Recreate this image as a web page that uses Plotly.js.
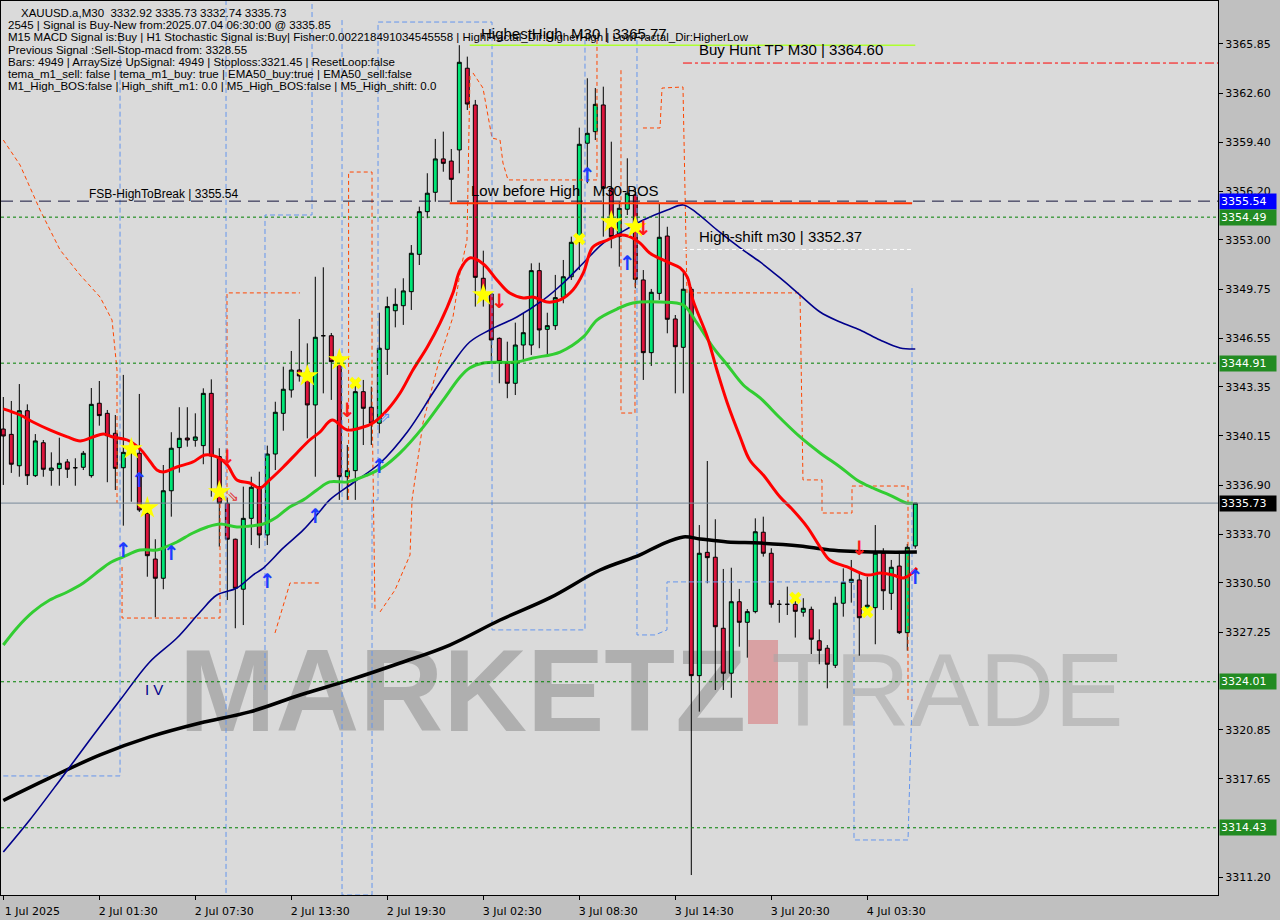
<!DOCTYPE html>
<html><head><meta charset="utf-8">
<script src="https://cdn.plot.ly/plotly-3.0.1.min.js"></script>
<style>html,body{margin:0;padding:0;background:#c0c0c0;}#chart{width:1280px;height:920px;}</style>
</head><body><div id="chart"></div>
<script>
// ---------- candles (XAUUSD.a M30) ----------
const open = [3340.59,3340.24,3338.18,3341.79,3337.53,3339.69,3337.88,3337.99,3338.43,3338.05,3338.08,3337.53,3342.28,3341.62,3340.31,3338.05,3339.41,3339.00,3335.06,3332.06,
3330.80,3336.54,3339.37,3340.00,3339.85,3339.50,3342.93,3338.78,3335.72,3333.36,3330.08,3334.73,3336.81,3333.64,3338.95,3341.62,3343.15,3344.46,3344.35,3342.17,
3346.71,3346.71,3344.90,3337.46,3337.86,3343.04,3342.02,3340.97,3345.82,3348.35,3348.68,3349.60,3352.05,3354.85,3356.12,3358.31,3358.17,3358.90,3364.26,3361.85,
3350.48,3349.45,3346.54,3345.01,3343.59,3346.10,3346.10,3350.98,3347.13,3347.37,3349.23,3350.58,3352.84,3359.34,3360.10,3361.85,3356.38,3353.21,3355.01,3355.94,
3350.37,3345.60,3349.49,3353.25,3347.81,3345.95,3349.76,3324.41,3332.50,3332.18,3327.52,3324.57,3329.26,3327.91,3328.61,3333.82,3332.44,3329.09,3329.09,3329.09,
3328.57,3328.76,3326.70,3326.21,3325.09,3329.16,3330.53,3330.69,3328.72,3328.87,3332.44,3329.81,3331.60,3327.23,3332.92];
const high = [3342.69,3342.43,3343.54,3342.21,3340.26,3339.87,3339.06,3340.02,3338.62,3338.67,3339.15,3343.28,3343.74,3341.84,3341.51,3344.14,3339.60,3342.89,3335.74,3333.36,
3338.23,3340.38,3342.02,3342.02,3341.62,3343.26,3343.85,3339.33,3336.07,3333.40,3336.81,3337.46,3337.79,3339.50,3342.38,3344.68,3345.71,3347.81,3346.21,3350.58,
3351.20,3346.89,3345.01,3339.54,3343.81,3343.81,3343.37,3348.22,3349.27,3349.82,3350.48,3352.66,3355.18,3357.37,3359.62,3360.10,3358.96,3365.77,3365.02,3362.18,
3352.29,3349.55,3346.60,3346.32,3347.57,3348.20,3351.46,3351.50,3348.22,3350.70,3351.68,3353.21,3360.36,3363.60,3362.96,3363.05,3359.44,3355.50,3358.35,3356.38,
3351.02,3349.78,3355.40,3353.86,3348.07,3351.02,3349.91,3334.29,3338.49,3334.67,3331.41,3331.49,3330.10,3328.78,3334.73,3334.84,3332.77,3329.37,3330.25,3329.70,
3329.49,3328.94,3327.45,3326.42,3329.59,3331.45,3332.00,3331.23,3330.90,3334.29,3332.77,3332.00,3332.39,3333.05,3335.73];
const low = [3336.92,3337.71,3337.46,3336.92,3337.44,3337.46,3336.87,3336.87,3337.38,3336.87,3337.90,3337.40,3340.81,3337.10,3336.59,3334.25,3335.82,3335.15,3330.90,3328.24,
3330.08,3334.84,3337.73,3339.43,3339.43,3338.28,3336.15,3332.87,3329.37,3327.52,3327.73,3332.98,3332.77,3332.98,3337.90,3340.48,3342.65,3343.70,3339.98,3337.46,
3342.93,3342.50,3335.94,3335.94,3335.94,3339.54,3339.54,3340.31,3344.14,3347.26,3347.42,3348.40,3351.35,3354.42,3355.50,3357.47,3355.50,3357.37,3361.52,3348.62,
3348.62,3345.01,3343.59,3342.61,3342.82,3345.12,3345.45,3345.89,3345.45,3347.09,3348.84,3350.37,3351.02,3356.71,3359.55,3353.21,3352.45,3351.24,3354.63,3349.82,
3343.81,3344.73,3349.06,3346.87,3342.93,3342.93,3311.33,3322.05,3330.47,3323.47,3323.47,3322.96,3326.31,3325.59,3328.50,3332.22,3328.87,3327.88,3328.39,3326.91,
3328.28,3325.83,3325.16,3323.58,3324.91,3328.28,3329.20,3325.72,3328.39,3326.47,3328.72,3328.72,3327.14,3326.05,3332.74];
const close = [3340.13,3338.28,3341.79,3337.53,3339.81,3337.95,3338.03,3338.34,3337.95,3338.05,3339.00,3342.21,3341.47,3340.15,3338.01,3339.06,3339.02,3335.28,3332.28,3330.80,
3336.54,3339.33,3339.98,3339.87,3340.07,3342.93,3338.82,3335.72,3333.36,3330.14,3334.73,3336.77,3333.64,3338.95,3341.69,3343.20,3344.46,3344.07,3342.17,3346.61,
3346.71,3345.01,3337.46,3337.86,3343.04,3341.95,3340.97,3345.89,3348.62,3348.77,3349.65,3352.12,3354.85,3356.06,3358.31,3358.02,3356.97,3364.65,3361.91,3350.54,
3349.45,3346.43,3345.01,3343.59,3346.10,3346.91,3350.98,3347.09,3347.37,3349.21,3350.58,3352.84,3359.27,3359.99,3361.89,3356.38,3353.21,3355.07,3356.06,3350.41,
3345.60,3349.56,3353.17,3347.79,3345.99,3349.76,3324.41,3332.44,3332.15,3327.62,3324.57,3329.26,3327.91,3328.61,3333.85,3332.44,3329.09,3329.09,3329.09,3328.63,
3328.83,3326.80,3326.07,3325.16,3329.16,3330.53,3330.73,3328.21,3329.03,3332.44,3329.98,3331.52,3327.23,3332.83,3335.73];
const barIdx = open.map((v, i) => i);

// ---------- time axis ----------
const tickIdx = [0,12,24,36,48,60,72,84,96,108];
const tickText = ['1 Jul 2025','2 Jul 01:30','2 Jul 07:30','2 Jul 13:30','2 Jul 19:30','3 Jul 02:30','3 Jul 08:30','3 Jul 14:30','3 Jul 20:30','4 Jul 03:30'];

// ---------- price axis (3324.05 and 3314.45 sit under level boxes) ----------
const priceTicks = [3365.85,3362.60,3359.40,3356.20,3353.00,3349.75,3346.55,3343.35,3340.15,3336.90,3333.70,3330.50,3327.25,3320.85,3317.65,3311.20];
const priceTickText = ['3365.85','3362.60','3359.40','3356.20','3353.00','3349.75','3346.55','3343.35','3340.15','3336.90','3333.70','3330.50','3327.25','3320.85','3317.65','3311.20'];

// ---------- moving averages ----------
const redX = [0,2.1,3.7,5.8,8.0,9.6,11.2,12.5,13.7,15.5,17.1,18.3,19.2,20.0,21.7,23.7,25.2,26.7,28.0,29.2,30.8,32.1,33.3,35.0,36.7,38.3,39.6,41.1,43.0,45.0,46.2,48.0,49.6,51.2,53.0,54.6,56.2,57.1,58.3,60.0,61.7,63.3,65.0,66.2,68.0,69.6,71.2,72.5,73.7,75.5,77.1,78.1,79.6,80.8,83.0,84.6,85.5,86.2,88.0,89.2,90.5,92.1,93.3,95.0,97.1,98.7,100.5,102.1,103.3,105.5,108.0,109.6,111.2,112.5,113.3,114.2];
const redY = [3341.91,3341.51,3341.05,3340.53,3340.07,3339.81,3340.07,3340.26,3340.07,3339.87,3339.28,3338.49,3337.90,3337.77,3338.10,3338.43,3338.89,3338.76,3338.23,3337.25,3337.05,3336.72,3337.25,3338.10,3339.02,3339.87,3340.40,3341.18,3340.53,3340.72,3340.99,3341.84,3342.95,3344.46,3345.97,3347.55,3349.51,3351.02,3351.81,3351.42,3350.37,3349.51,3349.19,3349.25,3348.92,3349.06,3349.71,3350.83,3352.53,3352.99,3353.32,3353.25,3352.79,3352.14,3351.55,3351.16,3350.56,3349.06,3346.63,3344.46,3342.30,3340.07,3338.56,3337.57,3336.13,3335.28,3334.16,3332.85,3332.00,3331.54,3331.01,3331.14,3331.01,3330.82,3331.01,3331.47];
const greenX = [0,1.7,3.7,5.8,8.0,10.0,12.1,13.3,15.0,17.1,19.2,20.0,21.7,23.7,25.5,27.1,29.2,30.8,32.5,34.2,35.8,37.5,39.2,40.8,43.0,45.5,47.5,49.6,52.5,55.0,57.1,58.3,60.0,64.2,66.2,69.6,72.5,74.2,76.7,78.7,82.1,85.0,86.7,88.7,90.5,92.5,94.6,97.1,99.6,102.1,104.6,106.7,108.7,110.8,112.9,113.7];
const greenY = [3326.42,3327.54,3328.59,3329.37,3329.90,3330.49,3331.34,3331.80,3332.20,3332.65,3332.65,3332.79,3333.18,3333.77,3334.16,3334.36,3334.16,3334.23,3334.36,3334.82,3335.48,3335.94,3336.59,3337.12,3337.12,3337.57,3338.10,3339.02,3340.73,3342.50,3344.00,3344.59,3344.92,3344.99,3345.25,3345.64,3346.63,3347.74,3348.46,3348.86,3348.92,3348.73,3347.55,3345.97,3344.79,3343.48,3342.63,3341.31,3340.07,3339.02,3338.10,3337.25,3336.72,3336.26,3335.74,3335.74];
const navyX = [0,3.3,7.1,10.8,14.6,18.3,21.7,24.6,26.7,29.2,31.2,32.5,35.0,37.5,39.6,40.8,43.7,47.1,50.5,53.7,56.2,58.3,60.8,64.2,67.5,70.0,72.5,75.0,77.1,80.0,83.0,85.0,86.7,89.2,92.1,94.6,97.1,99.6,102.1,104.6,107.1,109.6,112.1,114.0];
const navyY = [3312.84,3314.94,3317.57,3320.19,3322.81,3325.31,3326.88,3328.59,3329.70,3330.16,3331.01,3331.47,3332.79,3333.97,3335.21,3335.94,3337.05,3338.36,3340.40,3342.95,3344.92,3346.30,3347.09,3347.94,3349.06,3350.17,3351.48,3352.79,3353.45,3354.30,3354.96,3355.29,3354.76,3353.65,3352.47,3351.55,3350.50,3349.38,3348.27,3347.61,3347.09,3346.43,3345.91,3345.84];
const blackX = [0,5.8,12.1,18.3,24.6,30.8,37.1,43.3,49.6,55.8,62.1,68.3,74.6,79.6,82.1,85.0,87.1,90.5,94.6,99.6,103.3,109.6,114.2];
const blackY = [3316.22,3317.70,3319.21,3320.39,3321.30,3322.03,3323.14,3324.13,3325.24,3326.42,3328.06,3329.51,3331.34,3332.33,3332.98,3333.51,3333.38,3333.18,3333.11,3332.92,3332.66,3332.52,3332.52];

// ---------- channel step lines ----------
const orangeX = [0,2.09,4.59,7.09,9.59,12.09,13.59,14.21,14.21,null,14.84,14.84,27.09,27.09,27.96,27.96,37.09,null,33.96,35.84,39.59,null,43.16,43.16,46.09,46.09,46.46,null,47.09,48.96,50.84,51.09,52.46,54.59,56.21,57.09,57.96,58.34,null,58.71,59.96,61.09,62.09,62.46,63.09,74.21,74.21,null,77.21,77.21,78.96,78.96,null,79.96,82.09,82.34,84.96,85.46,99.59,99.96,102.34,102.34,106.09,106.09,113.09,113.09,113.71];
const orangeY = [3359.55,3357.91,3354.96,3352.34,3350.70,3349.25,3347.74,3344.46,3335.74,null,3331.54,3328.19,3328.19,3335.94,3335.94,3349.52,3349.52,null,3327.21,3330.49,3330.49,null,3335.94,3357.45,3357.45,3342.50,3328.72,null,3328.59,3330.03,3332.33,3335.94,3340.99,3345.31,3347.94,3350.83,3352.99,3363.95,null,3363.95,3362.96,3359.68,3359.55,3358.04,3356.93,3356.93,3366.11,null,3364.13,3341.64,3341.64,3354.30,null,3360.34,3360.34,3362.96,3363.03,3349.52,3349.52,3337.25,3337.25,3335.08,3335.08,3336.85,3336.85,3322.81,3322.81];
const blueX = [0,14.59,14.59,null,27.84,27.84,null,32.71,32.71,38.59,38.59,null,42.34,42.34,46.09,46.09,46.84,46.84,61.09,61.09,72.71,72.71,null,79.21,79.21,81.46,82.96,82.96,106.34,106.34,113.09,113.59,113.59];
const blueY = [3317.83,3317.83,3367.42,null,3368.74,3310.02,null,3323.47,3354.63,3354.63,3368.74,null,3367.42,3310.02,3310.02,3335.94,3335.94,3367.29,3367.29,3327.41,3327.41,3366.11,null,3366.11,3327.08,3327.08,3327.41,3330.56,3330.56,3313.63,3313.63,3322.81,3350.04];

// ---------- signal markers ----------
const buyArrowX = [15,17,21,33,39,47,73,78,114];
const buyArrowY = [3332.52,3337.12,3332.33,3330.49,3334.75,3338.03,3357.13,3351.35,3330.75];
const sellArrowX = [28,43,62,80,107];
const sellArrowY = [3338.62,3341.71,3348.86,3353.65,3332.65];
const starX = [16,18,27,38,42,60,76,79];
const starY = [3339.28,3335.41,3336.46,3344.07,3345.12,3349.38,3354.17,3353.84];
const crossX = [44,72,99,108];
const crossY = [3343.61,3353.06,3329.51,3328.59];
const hollowSellX = [28.7];
const hollowSellY = [3336.13];
const hollowBuyX = [47.7];
const hollowBuyY = [3341.31];

// ---------- levels ----------
const fsbHigh = 3355.54;
const greenLevels = [3354.49, 3344.91, 3324.01, 3314.43];
const currentPrice = 3335.73;
const highestHigh = 3365.77;
const buyHuntTP = 3364.60;
const highShift = 3352.37;
const lowBeforeHigh = 3355.40;

const infoLines = [
 'XAUUSD.a,M30  3332.92 3335.73 3332.74 3335.73',
 '2545 | Signal is Buy-New from:2025.07.04 06:30:00 @ 3335.85',
 'M15 MACD Signal is:Buy | H1 Stochastic Signal is:Buy| Fisher:0.002218491034545558 | HighFractal_Dir:HigherHigh | LowFractal_Dir:HigherLow',
 'Previous Signal :Sell-Stop-macd from: 3328.55',
 'Bars: 4949 | ArraySize UpSignal: 4949 | Stoploss:3321.45 | ResetLoop:false',
 'tema_m1_sell: false | tema_m1_buy: true | EMA50_buy:true | EMA50_sell:false',
 'M1_High_BOS:false | High_shift_m1: 0.0 | M5_High_BOS:false | M5_High_shift: 0.0'
];

// ---------- geometry helpers (pixel -> paper) ----------
const PL = 1, PR = 1218, PT = 1, PB = 895;
const px = x => (x - PL) / (PR - PL);
const py = y => (PB - y) / (PB - PT);
const XR = [-0.29, 151.84];

const traces = [
 {type:'candlestick', x:barIdx, open:open, high:high, low:low, close:close,
  increasing:{line:{color:'#000000',width:1}, fillcolor:'#00e676'},
  decreasing:{line:{color:'#000000',width:1}, fillcolor:'#dc143c'},
  whiskerwidth:0, hoverinfo:'skip', showlegend:false},
 {type:'scatter', mode:'lines', x:orangeX, y:orangeY, connectgaps:false, line:{color:'#ff4500',width:1,dash:'4px,3px'}, hoverinfo:'skip', showlegend:false},
 {type:'scatter', mode:'lines', x:blueX, y:blueY, connectgaps:false, line:{color:'#6495ed',width:1,dash:'5px,3px'}, hoverinfo:'skip', showlegend:false},
 {type:'scatter', mode:'lines', x:blackX, y:blackY, line:{color:'#000000',width:3.5,shape:'spline'}, hoverinfo:'skip', showlegend:false},
 {type:'scatter', mode:'lines', x:navyX, y:navyY, line:{color:'#00008b',width:1.6,shape:'spline'}, hoverinfo:'skip', showlegend:false},
 {type:'scatter', mode:'lines', x:greenX, y:greenY, line:{color:'#32cd32',width:3,shape:'spline'}, hoverinfo:'skip', showlegend:false},
 {type:'scatter', mode:'lines', x:redX, y:redY, line:{color:'#ff0000',width:3,shape:'spline'}, hoverinfo:'skip', showlegend:false},
 {type:'scatter', mode:'markers', x:starX, y:starY, marker:{symbol:'star',size:17,color:'#ffff00',line:{width:0}}, hoverinfo:'skip', showlegend:false},
 {type:'scatter', mode:'markers', x:crossX, y:crossY, marker:{symbol:'x',size:11,color:'#ffff00',line:{width:0}}, hoverinfo:'skip', showlegend:false},
 {type:'scatter', mode:'text', x:buyArrowX, y:buyArrowY, text:buyArrowX.map(()=>'↑'), textfont:{family:'DejaVu Sans',size:20,color:'#1e3cff',weight:'bold'}, hoverinfo:'skip', showlegend:false},
 {type:'scatter', mode:'text', x:sellArrowX, y:sellArrowY, text:sellArrowX.map(()=>'↓'), textfont:{family:'DejaVu Sans',size:20,color:'#ff1a1a',weight:'bold'}, hoverinfo:'skip', showlegend:false},
 {type:'scatter', mode:'text', x:hollowSellX, y:hollowSellY, text:['⇘'], textfont:{family:'DejaVu Sans',size:14,color:'#e03030'}, hoverinfo:'skip', showlegend:false},
 {type:'scatter', mode:'text', x:hollowBuyX, y:hollowBuyY, text:['⇗'], textfont:{family:'DejaVu Sans',size:14,color:'#5a8cf0'}, hoverinfo:'skip', showlegend:false}
];

const shapes = [
 // watermark (below the candles)
 {type:'rect', layer:'below', xref:'paper', yref:'paper', x0:px(180), x1:px(745), y0:py(725), y1:py(635), line:{width:0}, fillcolor:'rgba(0,0,0,0)',
  label:{text:'MARKETZ', font:{family:'Liberation Sans', size:116, color:'rgba(140,140,140,0.55)', weight:'bold'}, textposition:'middle center'}},
 {type:'rect', layer:'below', xref:'paper', yref:'paper', x0:px(748), x1:px(778), y0:py(724), y1:py(640), line:{width:0}, fillcolor:'rgba(215,90,95,0.45)'},
 {type:'rect', layer:'below', xref:'paper', yref:'paper', x0:px(790), x1:px(1105), y0:py(725), y1:py(635), line:{width:0}, fillcolor:'rgba(0,0,0,0)',
  label:{text:'TRADE', font:{family:'Liberation Sans', size:104, color:'rgba(165,165,165,0.55)'}, textposition:'middle center'}},
 // levels
 {type:'line', xref:'paper', x0:0, x1:1, yref:'y', y0:currentPrice, y1:currentPrice, line:{color:'#778899',width:1}},
 {type:'line', xref:'paper', x0:0, x1:1, yref:'y', y0:fsbHigh, y1:fsbHigh, line:{color:'#14143c',width:1,dash:'12px,7px'}},
 ...greenLevels.map(v => ({type:'line', xref:'paper', x0:0, x1:1, yref:'y', y0:v, y1:v, line:{color:'#008000',width:1,dash:'3px,3px'}})),
 {type:'line', xref:'x', x0:58.3, x1:114, yref:'y', y0:highestHigh, y1:highestHigh, line:{color:'#adff2f',width:1.5}},
 {type:'line', xref:'x', x0:84.96, x1:XR[1], yref:'y', y0:buyHuntTP, y1:buyHuntTP, line:{color:'#ff0000',width:1,dash:'dashdot'}},
 {type:'line', xref:'x', x0:84.96, x1:113.6, yref:'y', y0:highShift, y1:highShift, line:{color:'#ffffff',width:1,dash:'4px,3px'}},
 {type:'line', xref:'x', x0:55.8, x1:113.6, yref:'y', y0:lowBeforeHigh, y1:lowBeforeHigh, line:{color:'#ff3300',width:2}}
];

const F = 'Liberation Sans, Arial, sans-serif';
const annotations = [];
infoLines.forEach((t, k) => {
  const ys = [12.7,25.3,37.3,50,62,73.7,85.7];
  annotations.push({xref:'paper', yref:'paper', x:px(k===0?19:6), y:py(ys[k]), xanchor:'left', yanchor:'middle', showarrow:false,
    text:t, font:{family:F, size:11.5, color:'#000000'}});
});
function lab(t, xi, yp, size, color, anchor){
  annotations.push({xref:'x', yref:'y', x:xi, y:yp, xanchor:anchor||'left', yanchor:'middle', showarrow:false, text:t,
    font:{family:F, size:size, color:color||'#000000'}});
}
lab('HighestHigh \u00a0M30 | ' + highestHigh.toFixed(2), 59.4, 3366.57, 15);
lab('Buy Hunt TP M30 | ' + buyHuntTP.toFixed(2), 86.7, 3365.46, 15);
lab('Low before High \u00a0\u00a0M30-BOS', 58.2, 3356.27, 15);
lab('High-shift m30 | ' + highShift.toFixed(2), 86.7, 3353.19, 15);
lab('FSB-HighToBreak | ' + fsbHigh.toFixed(2), 10.5, 3356.00, 12);
lab('I V', 17.4, 3323.47, 15, '#00008b');

function axBox(v, bg){
  annotations.push({xref:'paper', yref:'y', x:1, y:v, xanchor:'left', yanchor:'middle', xshift:1, showarrow:false,
    text:v.toFixed(2), bgcolor:bg, borderpad:1, width:54, align:'left',
    font:{family:'DejaVu Sans', size:11, color:'#ffffff'}});
}
axBox(fsbHigh, '#0000ff');
greenLevels.forEach(v => axBox(v, '#228b22'));
axBox(currentPrice, '#000000');

const layout = {
  width:1280, height:920,
  margin:{l:PL, r:1280-PR, t:PT, b:920-PB, pad:0},
  paper_bgcolor:'#c0c0c0', plot_bgcolor:'#dadada',
  showlegend:false, dragmode:false,
  xaxis:{range:XR, autorange:false, rangeslider:{visible:false}, showgrid:false, zeroline:false,
    tickmode:'array', tickvals:tickIdx, ticktext:tickText, ticks:'outside', ticklen:4, tickcolor:'#000',
    ticklabelshift:29, ticklabelstandoff:2,
    tickfont:{family:'DejaVu Sans', size:11, color:'#000'}, showline:true, linecolor:'#000', linewidth:1, mirror:true},
  yaxis:{range:[3310.02, 3368.67], autorange:false, side:'right', showgrid:false, zeroline:false,
    tickmode:'array', tickvals:priceTicks, ticktext:priceTickText, ticks:'outside', ticklen:4, tickcolor:'#000',
    tickfont:{family:'DejaVu Sans', size:11, color:'#000'}, showline:true, linecolor:'#000', linewidth:1, mirror:true},
  shapes:shapes, annotations:annotations, boxgap:0.3
};
Plotly.newPlot('chart', traces, layout, {displayModeBar:false, staticPlot:true});
</script></body></html>
